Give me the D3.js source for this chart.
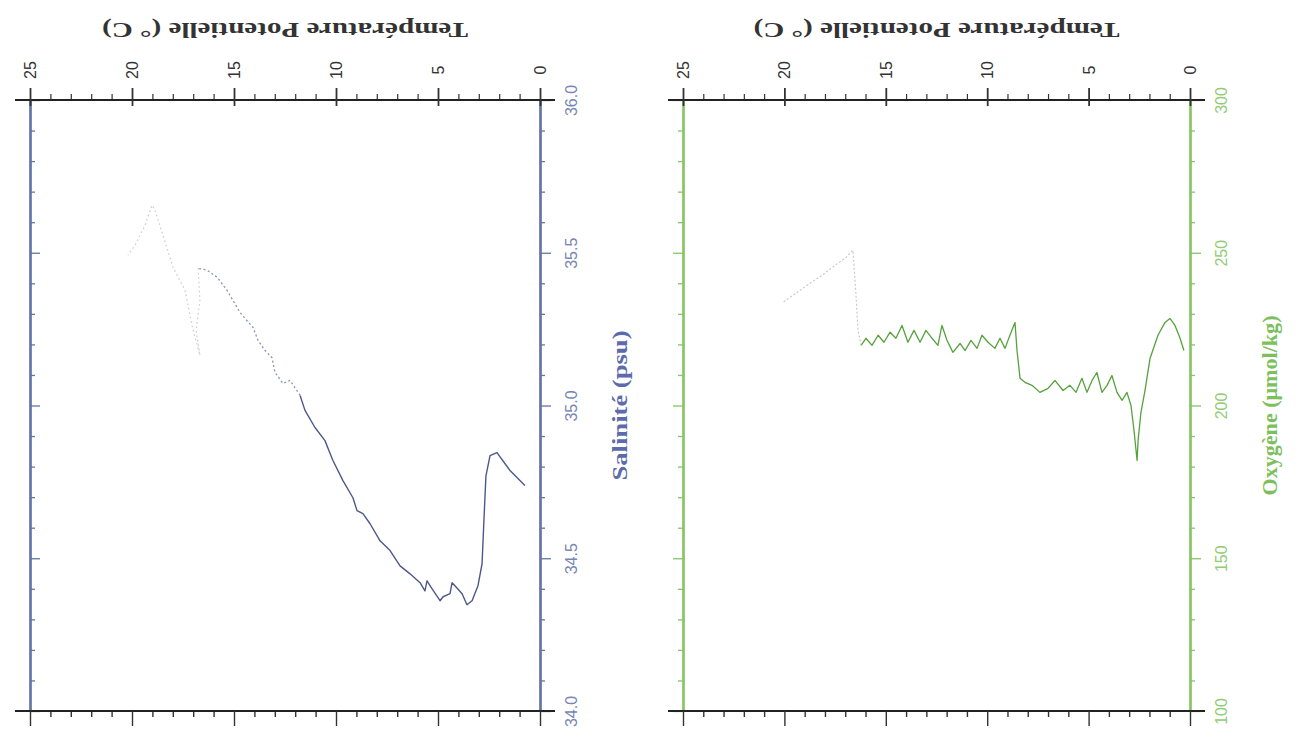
<!DOCTYPE html>
<html><head><meta charset="utf-8">
<script src="https://cdn.jsdelivr.net/npm/d3@7"></script>
<style>body{margin:0;background:#fff}svg{display:block}</style>
</head><body>
<svg id="c" width="1303" height="742"></svg>
<script>
// ---- data ----
const tempTicks = [0, 5, 10, 15, 20, 25];
const salTicks = [34, 34.5, 35, 35.5, 36];
const salTickLabels = ["34.0", "34.5", "35.0", "35.5", "36.0"];
const oxyTicks = [100, 150, 200, 250, 300];
const oxyTickLabels = ["100", "150", "200", "250", "300"];

// Salinity profile (solid part): temperature, salinity
const salTemp = [0.74,1.47,2.11,2.45,2.65,2.75,2.84,3.04,3.33,3.58,3.82,4.17,4.31,4.41,4.75,4.90,5.29,5.54,5.64,5.88,6.37,6.86,7.35,7.84,8.33,8.68,8.97,9.17,9.66,10.15,10.29,10.54,11.03,11.52,11.76];
const salVal  = [34.738,34.787,34.846,34.836,34.770,34.623,34.482,34.410,34.361,34.348,34.384,34.410,34.420,34.384,34.374,34.361,34.400,34.426,34.393,34.420,34.449,34.475,34.525,34.557,34.613,34.646,34.656,34.698,34.754,34.820,34.843,34.885,34.928,34.984,35.033];
// Salinity profile (dotted part)
const salTempDot = [11.76,12.25,12.60,12.99,13.14,13.48,13.82,14.07,14.46,14.71,15.05,15.34,15.83,16.32,16.76];
const salValDot  = [35.033,35.082,35.072,35.108,35.157,35.180,35.213,35.256,35.285,35.305,35.344,35.377,35.420,35.443,35.449];
// Salinity profile (faint surface part)
const salTempFaint = [16.76,16.67,16.86,16.67,17.06,17.40,17.99,18.48,18.87,19.02,19.36,19.85,20.20];
const salValFaint  = [35.449,35.344,35.246,35.164,35.262,35.377,35.452,35.557,35.639,35.656,35.590,35.525,35.492];

// Oxygen profile (solid part): temperature, oxygen
const oxyTemp = [0.30,0.49,0.74,0.99,1.23,1.58,1.97,2.22,2.42,2.56,2.61,2.76,2.91,3.11,3.35,3.60,3.85,4.09,4.34,4.59,4.83,5.08,5.33,5.62,5.92,6.26,6.66,7.00,7.40,7.79,8.14,8.38,8.53,8.63,8.88,9.12,9.37,9.62,9.96,10.26,10.50,10.80,11.09,11.34,11.69,11.98,12.23,12.43,12.72,13.02,13.31,13.61,13.91,14.20,14.50,14.79,15.09,15.38,15.68,15.98,16.22];
const oxyVal  = [218.0,222.0,226.2,228.5,227.2,223.0,215.4,204.9,197.7,188.5,182.0,191.8,200.0,204.3,201.7,204.3,209.8,206.6,204.3,210.8,208.2,204.3,208.9,204.3,206.6,204.9,208.2,205.6,204.3,206.6,207.6,208.9,218.0,227.2,223.0,218.7,222.0,218.7,220.7,223.0,218.7,221.3,218.0,220.3,217.4,221.3,226.2,219.7,222.0,224.6,220.7,224.6,220.7,226.2,222.0,224.0,220.7,223.0,219.7,222.0,219.7];
// Oxygen profile (faint surface part)
const oxyTempFaint = [16.22,16.37,16.47,16.62,17.01,17.50,18.15,18.74,19.23,19.72,20.07];
const oxyValFaint  = [219.7,224.6,236.1,250.8,248.2,245.9,242.6,240.0,237.7,235.4,233.8];

// ---- drawing ----
const svg = d3.select("#c");
const yTop = 100, yBot = 711;
const panels = [
  {x0: 30, x1: 540, dom: [34, 36], ticks: salTicks, labels: salTickLabels, minorStep: 0.1,
   frame: "#6474a6", lab: "#7886b3", title: "Salinité (psu)", titleCol: "#5b6bab", titleLen: 150,
   leftInside: true,
   series: [{t: salTemp, v: salVal, col: "#4d5889", w: 1.4, dash: null, op: 1},
            {t: salTempDot, v: salValDot, col: "#6d76a0", w: 1.3, dash: "2,2.5", op: 0.8},
            {t: salTempFaint, v: salValFaint, col: "#b8bcc8", w: 1.2, dash: "1.5,3", op: 0.8}]},
  {x0: 683, x1: 1190, dom: [100, 300], ticks: oxyTicks, labels: oxyTickLabels, minorStep: 10,
   frame: "#86c466", lab: "#92cc76", title: "Oxygène (μmol/kg)", titleCol: "#7cbf5c", titleLen: 180,
   leftInside: false,
   series: [{t: oxyTemp, v: oxyVal, col: "#55a23c", w: 1.3, dash: null, op: 1},
            {t: oxyTempFaint, v: oxyValFaint, col: "#bdbdbd", w: 1.2, dash: "2,2", op: 0.8}]}
];

function range(a, b, s) { const r = []; for (let v = a; v <= b + 1e-9; v += s) r.push(+v.toFixed(4)); return r; }

panels.forEach(p => {
  const x = d3.scaleLinear().domain([25, 0]).range([p.x0, p.x1]);
  const y = d3.scaleLinear().domain(p.dom).range([yBot, yTop]);
  const g = svg.append("g");

  // curves
  p.series.forEach(s => {
    const pts = s.t.map((t, i) => [t, s.v[i]]);
    g.append("path").datum(pts)
      .attr("fill", "none").attr("stroke", s.col).attr("stroke-width", s.w)
      .attr("stroke-opacity", s.op).attr("stroke-linejoin", "round")
      .attr("stroke-dasharray", s.dash)
      .attr("d", d3.line().x(d => x(d[0])).y(d => y(d[1])));
  });

  const minorV = range(p.dom[0], p.dom[1], p.minorStep).filter(v => !p.ticks.some(t => Math.abs(t - v) < 1e-6));

  // right vertical axis (with labels)
  const ra = g.append("g").attr("transform", `translate(${p.x1},0)`);
  ra.call(d3.axisRight(y).tickValues(minorV).tickSize(5).tickFormat("").tickSizeOuter(0));
  ra.append("g").call(d3.axisRight(y).tickValues(p.ticks).tickSize(11).tickSizeOuter(0)
      .tickFormat((d, i) => p.labels[i]));
  ra.selectAll("path.domain").attr("stroke", p.frame).attr("stroke-width", 2.2);
  ra.selectAll("line").attr("stroke", p.frame).attr("stroke-width", 1.3);
  ra.selectAll("text").attr("x", null).attr("dy", null).attr("y", null)
    .attr("transform", "translate(31,0) rotate(-90)")
    .attr("text-anchor", "middle").attr("dominant-baseline", "central")
    .attr("fill", p.lab).attr("font-family", "Liberation Sans, Arial, sans-serif").attr("font-size", 16);

  // left vertical axis (no labels)
  const la = g.append("g").attr("transform", `translate(${p.x0},0)`);
  const mk = p.leftInside ? d3.axisRight : d3.axisLeft;
  la.call(mk(y).tickValues(minorV).tickSize(5).tickFormat("").tickSizeOuter(0));
  la.append("g").call(mk(y).tickValues(p.ticks).tickSize(10).tickFormat("").tickSizeOuter(0));
  la.selectAll("path.domain").attr("stroke", p.frame).attr("stroke-width", 2.2);
  la.selectAll("line").attr("stroke", p.frame).attr("stroke-width", 1.3);

  // top temperature axis
  const tMinor = range(0, 25, 1).filter(v => v % 5 !== 0);
  const ta = g.append("g").attr("transform", `translate(0,${yTop})`);
  ta.call(d3.axisTop(x).tickValues(tMinor).tickSize(6).tickFormat("").tickSizeOuter(0));
  const taMaj = ta.append("g").call(d3.axisTop(x).tickValues(tempTicks).tickSize(12).tickSizeOuter(0));
  ta.selectAll("path.domain").attr("d", `M${p.x0 - 15},0H${p.x1 + 15}`).attr("stroke", "#222").attr("stroke-width", 2.2);
  ta.selectAll("g.tick line").attr("stroke", "#333").attr("stroke-width", 1.2);
  taMaj.selectAll("g.tick line").attr("y1", 6).attr("stroke-width", 1.8);
  ta.selectAll("text").attr("y", null).attr("dy", null)
    .attr("transform", "translate(0,-30) rotate(-90)")
    .attr("text-anchor", "middle").attr("dominant-baseline", "central")
    .attr("fill", "#333").attr("font-family", "Liberation Sans, Arial, sans-serif").attr("font-size", 16);

  // bottom temperature axis (no labels)
  const ba = g.append("g").attr("transform", `translate(0,${yBot})`);
  ba.call(d3.axisBottom(x).tickValues(tMinor).tickSize(6).tickFormat("").tickSizeOuter(0));
  ba.append("g").call(d3.axisBottom(x).tickValues(tempTicks).tickSize(15).tickFormat("").tickSizeOuter(0));
  ba.selectAll("path.domain").attr("d", `M${p.x0 - 15},0H${p.x1 + 15}`).attr("stroke", "#222").attr("stroke-width", 2.2);
  ba.selectAll("line").attr("stroke", "#333").attr("stroke-width", 1.4);

  // titles
  svg.append("text")
    .attr("transform", `translate(${(p.x0 + p.x1) / 2},30) rotate(180)`)
    .attr("text-anchor", "middle").attr("dominant-baseline", "central")
    .attr("font-family", "Liberation Serif, Times New Roman, serif").attr("font-weight", "bold")
    .attr("font-size", 21).attr("fill", "#333")
    .attr("textLength", 366).attr("lengthAdjust", "spacingAndGlyphs")
    .text("Température Potentielle (° C)");
  svg.append("text")
    .attr("transform", `translate(${p.x1 + 80},${(yTop + yBot) / 2}) rotate(-90)`)
    .attr("text-anchor", "middle").attr("dominant-baseline", "central")
    .attr("font-family", "Liberation Serif, Times New Roman, serif").attr("font-weight", "bold")
    .attr("font-size", 21).attr("fill", p.titleCol)
    .attr("textLength", p.titleLen).attr("lengthAdjust", "spacingAndGlyphs")
    .text(p.title);
});
</script>
</body></html>
